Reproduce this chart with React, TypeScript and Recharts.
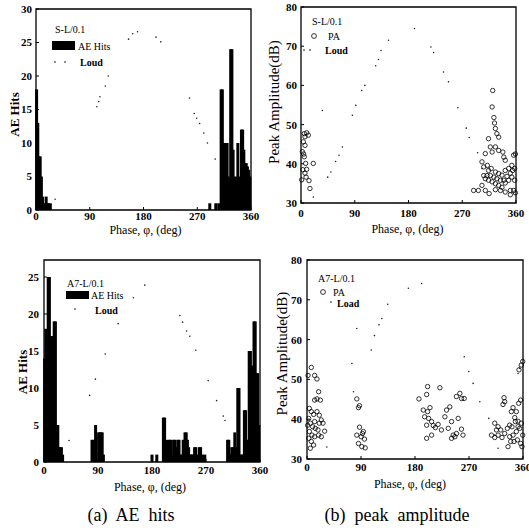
import React from 'react';
import { ComposedChart, Bar, Scatter, XAxis, YAxis, ReferenceArea, Label } from 'recharts';

const FONT = '"Liberation Serif", "Times New Roman", serif';
const phaseTicks = [0, 90, 180, 270, 360];

// S-L/0.1 : AE hits per phase bin
const slHitPhase = [1, 3, 5, 7, 9, 11, 13, 15, 17, 19, 21, 24, 291, 301, 306, 310, 312, 314, 317, 320, 322, 324, 326, 328, 330, 332, 334, 336, 338, 340, 342, 344, 346, 348, 350, 352, 354, 356, 358];
const slHitCount = [18, 13, 8, 8, 5, 2, 1, 1, 2, 1, 1, 1, 1, 1, 1, 18, 18, 10, 10, 10, 5, 4, 24, 24, 9, 4, 5, 4, 10, 5, 3, 12, 12, 9, 7, 7, 6.5, 6, 5];
// S-L/0.1 : load trace drawn on the hits scale
const slLoadPhase = [32, 102, 105, 107, 116, 121, 155, 162, 170, 201, 209, 257, 265, 269, 274, 281, 287, 300];
const slLoadHits = [1.6, 15.4, 16.2, 16.9, 18.5, 20, 25.5, 26.3, 26.6, 25.8, 25.1, 16.7, 14.4, 13.7, 12.9, 11.5, 10, 7.6];
// S-L/0.1 : peak amplitude (dB)
const slPaPhase = [5.6, 9.5, 12.3, 6.7, 3.9, 6.7, 2.2, 5.5, 7.8, 9.5, 6.7, 1.1, 13.4, 15, 20.6, 3, 8.5, 4.5,
  321, 320, 323, 324, 325.5, 328, 331, 314, 317, 325.5, 320, 331, 338, 339.6, 342, 356, 308.6, 303, 306, 312, 314, 318.5,
  325.5, 331, 336.5, 342, 347.7, 353, 357.8, 306, 308.6, 314, 320, 325.5, 331, 336.5, 342, 347.7, 353, 357.8, 303, 308.6,
  315, 297, 325.5, 334, 342, 350.5, 356, 350.5, 359, 311.5, 317, 323, 328, 334, 339.6, 345, 350.5, 354.5, 359, 289];
const slPaDb = [47.7, 47.9, 47.3, 46.9, 45.6, 44.7, 43.1, 41.8, 40.1, 38.6, 37.6, 35.9, 35.7, 33.7, 40.1, 38.5, 36.6, 42.5,
  58.7, 54.5, 51.8, 50.4, 49, 47.7, 46.8, 46.4, 44.3, 44.3, 43, 43.4, 43, 41.7, 40.9, 42.2, 42.6, 40.5, 39.2, 39.6, 38.3, 38.8,
  37.9, 37.5, 37.1, 38.3, 38.8, 39.6, 38.8, 37, 36.2, 35.8, 35.4, 34.9, 34.5, 34, 35.1, 35.8, 36.6, 35.8, 34.5, 33.2,
  32.4, 33.2, 33.4, 33.2, 32.8, 33.2, 33.2, 32.1, 32.6, 37, 37, 36.6, 36.2, 35.8, 35.8, 36.8, 37.6, 38.3, 42.5, 33.2];
const slLoadPhaseDb = [20.7, 35.8, 44.7, 50, 58, 63.7, 69.3, 86, 91.7, 101.7, 107, 125, 129.7, 134, 146.5, 190, 217.5, 222, 238.7, 247, 262.7, 276.7, 281.7, 295.7, 303];
const slLoadDb = [31.5, 53.6, 36.6, 37.9, 40.6, 42.2, 44.3, 52.4, 54.9, 58.7, 60, 65, 66.6, 68.9, 71.5, 74.5, 69.8, 68.4, 63.4, 60.9, 54.3, 49.1, 46.7, 42.8, 38.8];

// A7-L/0.1 : AE hits per phase bin
const a7HitPhase = [1, 3, 5, 7, 9, 11, 13, 15, 17, 19, 21, 23, 25, 27, 29, 31,
  80, 83, 86, 91, 93, 95, 97, 99,
  180, 188, 199, 201, 203, 205, 207, 209, 211, 213, 216, 218, 221, 223, 225, 228, 230, 232, 235, 237, 239, 241, 244, 246, 248, 251, 253, 256, 259, 261, 264, 268,
  306, 308, 311, 313, 315, 318, 320, 323, 325, 327, 330, 332, 334, 336, 338, 340, 342, 344, 346, 348, 350, 352, 354, 356, 358];
const a7HitCount = [14, 18, 17, 25, 25, 17, 17, 17, 19, 19, 5, 5, 2, 2, 2, 1,
  3, 3, 5, 4, 4, 4, 4, 1,
  1, 1, 6, 6, 2, 3, 1, 3, 3, 1, 3, 3, 2, 3, 3, 1, 1, 3, 4, 4, 3, 2, 1, 1, 1, 2, 2, 1, 2, 2, 1, 1,
  3, 3, 1, 2, 2, 4, 2, 10, 10, 1, 1, 1, 7, 7, 3, 3, 15, 15, 13, 13, 19, 19, 12, 12, 5];
const a7LoadPhase = [41.7, 76, 85.7, 102, 123.5, 149, 168, 226.5, 231, 237.6, 243, 253, 273.7, 287.7, 298.8, 301.6];
const a7LoadHits = [2.9, 9, 11.2, 14.6, 18.7, 22.2, 23.9, 19.8, 18.9, 17.7, 17, 15.1, 11, 8.3, 6.2, 5.6];
// A7-L/0.1 : peak amplitude (dB)
const a7PaPhase = [7.2, 1.7, 12.7, 16.6, 12.7, 16.6, 19.4, 22.2, 3.9, 7.2, 11, 16.6, 20.5, 23.8, 26.6, 29.4, 2.8, 5.5, 9.4, 13.8,
  18.3, 3.9, 8.3, 12.7, 19.4, 2.8, 7.2, 11, 5.5, 23.8, 1.1, 20.5, 12.7,
  83, 85.8, 87.5, 83, 85.8, 90.3, 91.4, 94, 95.8, 97, 87.5, 92.5,
  186.6, 199.4, 201, 221.5, 193.8, 201, 205, 196, 202.7, 199.4, 207.7, 210.5, 214, 218.5, 224, 229.8, 232.6, 238, 240.9, 235.4,
  243.7, 249.2, 252, 249, 254.8, 257.5, 261.9, 257.5, 260, 199.4, 207.7, 240.9, 246.5,
  328.4, 329.5, 326.7, 312.9, 318.5, 322.9, 307.4, 312.9, 318.5, 325, 329.5, 337.8, 343.4, 348.9, 354.5, 357.2, 351.7, 346.2,
  340.6, 343.4, 348.9, 352.8, 356.1, 353.3, 357.2, 359.5, 339.5, 345, 350.6, 356.1, 358.3, 335, 347.3, 341.7, 337.8, 333.9, 351.7, 359.5, 315.7];
const a7PaDb = [53, 51, 51, 50.1, 44.8, 45.1, 46.9, 44.8, 42.7, 41.9, 41.2, 41.9, 41, 39.8, 39, 37, 40.2, 39, 38.1, 37.7,
  37.3, 36.9, 36, 35.6, 36, 35.2, 34.4, 33.5, 32.7, 35.6, 38.5, 39, 39.4,
  45.1, 42.9, 43.4, 36, 33.9, 35.6, 33.1, 36.9, 35, 32.8, 38, 36.4,
  45.1, 46.2, 48.2, 47.9, 42.3, 41.9, 42.9, 40.6, 40.2, 38.5, 39.4, 38.4, 37.9, 38.7, 37.3, 40.6, 42.3, 43.1, 39.4, 37.7,
  36, 36.4, 40.2, 45.7, 46.5, 45.2, 45.2, 37.5, 36, 35.2, 36, 35.2, 35.6,
  45.4, 44.4, 43.7, 39, 38.1, 37.3, 36, 35.4, 36, 35.4, 36.4, 35.6, 36, 36.9, 37.7, 39, 39.5, 40.4,
  41.9, 42.9, 41.9, 44, 44.8, 52.4, 53.6, 54.5, 34.4, 34.4, 34.8, 33.9, 33.1, 33.1, 39.4, 38.1, 38.5, 37.7, 38.1, 36, 37.3];
const a7LoadPhaseDb = [33, 74.8, 77.5, 83, 107, 112.4, 120, 124.6, 134.6, 169, 191, 262, 269.7, 276.9, 288, 303, 313, 318.5, 351.7, 354.4];
const a7LoadDb = [33, 54, 46.9, 62.8, 57.4, 61, 63.7, 65.3, 68.9, 72.9, 74.1, 55.7, 52, 49, 44.4, 40.2, 36, 32.7, 51.5, 52.8];

const zipHits = (ph: number[], v: number[]) => ph.map((p, i) => ({ phase: p, hits: v[i] }));
const zipVal = (ph: number[], v: number[]) => ph.map((p, i) => ({ phase: p, v: v[i] }));

const BarShape = (p: any) => {
  const bw = Number.isFinite(p.width) ? p.width : 0;
  const w = Math.max(bw, 3);
  return <rect x={p.x + bw / 2 - w / 2} y={p.y} width={w} height={p.height} fill="#000" />;
};
const LoadDot = (p: any) => <circle cx={p.cx} cy={p.cy} r={0.8} fill="#222" />;
const PaRing = (p: any) => <circle cx={p.cx} cy={p.cy} r={2.2} fill="none" stroke="#000" strokeWidth={0.8} />;

const yTitle = (text: string, dx: number, dy: number, size: number, weight: any) => (props: any) => {
  const vb = props.viewBox;
  const x = vb.x + dx;
  const y = vb.y + vb.height / 2 + dy;
  return (
    <text x={x} y={y} transform={`rotate(-90 ${x} ${y})`} textAnchor="middle" dominantBaseline="central"
      style={{ fontFamily: FONT, fontSize: size, fontWeight: weight }} fill="#000">{text}</text>
  );
};
const xTitle = (dx: number, dy: number) => (props: any) => {
  const vb = props.viewBox;
  return (
    <text x={vb.x + vb.width / 2 + dx} y={vb.y + dy} textAnchor="middle" dominantBaseline="central"
      style={{ fontFamily: FONT, fontSize: 12 }} fill="#000">Phase, φ, (deg)</text>
  );
};

type PanelProps = {
  left: number; top: number; width: number; height: number; yWidth: number; mTop: number; mRight: number;
  yDomain: [number, number]; yTicks: number[];
  yText: string; yDx: number; yDy: number; ySize: number; yWeight: any;
  xDx: number; xDy: number; xTickGap: number; yTickGap: number;
  bars?: any[]; load: any[]; pa?: any[];
};

// ticks point inwards, so the label gap gets the tick length added back
const TICK = -3;

function Panel(p: PanelProps) {
  const tickStyle = { fontFamily: FONT, fontSize: 11, fontWeight: 'bold', fill: '#000' };
  const tickLine = { stroke: '#000', strokeWidth: 1 };
  return (
    <div style={{ position: 'absolute', left: p.left, top: p.top }}>
      <ComposedChart width={p.width} height={p.height} data={p.bars || []}
        margin={{ top: p.mTop, right: p.mRight, bottom: 15, left: 0 }}>
        <XAxis type="number" dataKey="phase" domain={[0, 360]} ticks={phaseTicks} height={30}
          axisLine={false} tickLine={tickLine} tickSize={TICK} tickMargin={p.xTickGap - TICK} tick={tickStyle} interval={0}>
          <Label content={xTitle(p.xDx, p.xDy)} />
        </XAxis>
        <YAxis type="number" domain={p.yDomain} ticks={p.yTicks} width={p.yWidth}
          axisLine={false} tickLine={tickLine} tickSize={TICK} tickMargin={p.yTickGap - TICK} tick={tickStyle} interval={0}>
          <Label content={yTitle(p.yText, p.yDx, p.yDy, p.ySize, p.yWeight)} />
        </YAxis>
        {p.bars && <Bar dataKey="hits" fill="#000" shape={BarShape} isAnimationActive={false} />}
        <Scatter data={p.load} dataKey="v" shape={LoadDot} isAnimationActive={false} />
        {p.pa && <Scatter data={p.pa} dataKey="v" shape={PaRing} isAnimationActive={false} />}
        <ReferenceArea x1={0} x2={360} y1={p.yDomain[0]} y2={p.yDomain[1]} fill="none" fillOpacity={0}
          stroke="#000" strokeWidth={1.3} ifOverflow="visible" />
      </ComposedChart>
    </div>
  );
}

const txt = { fontFamily: FONT, fontSize: 10 } as const;

export default function App() {
  return (
    <div style={{ position: 'absolute', left: 0, top: 0, width: 529, height: 530, background: '#fff' }}>
      <Panel left={0} top={0} width={266} height={255} yWidth={36} mTop={9} mRight={15}
        yDomain={[0, 30]} yTicks={[0, 5, 10, 15, 20, 25, 30]}
        yText="AE Hits" yDx={14} yDy={5} ySize={13} yWeight="bold"
        xDx={2} xDy={20} xTickGap={2} yTickGap={4}
        bars={zipHits(slHitPhase, slHitCount)} load={zipVal(slLoadPhase, slLoadHits)} />
      <Panel left={265} top={0} width={264} height={248} yWidth={36} mTop={7} mRight={13}
        yDomain={[30, 80]} yTicks={[30, 40, 50, 60, 70, 80]}
        yText="Peak Amplitude(dB)" yDx={9} yDy={-3} ySize={15} yWeight="normal"
        xDx={-1} xDy={26} xTickGap={6} yTickGap={4}
        load={zipVal(slLoadPhaseDb, slLoadDb)} pa={zipVal(slPaPhase, slPaDb)} />
      <Panel left={0} top={250} width={275} height={257} yWidth={44} mTop={10} mRight={15}
        yDomain={[0, 27.3]} yTicks={[0, 5, 10, 15, 20, 25]}
        yText="AE Hits" yDx={22} yDy={11} ySize={13} yWeight="bold"
        xDx={-2} xDy={25} xTickGap={4} yTickGap={5}
        bars={zipHits(a7HitPhase, a7HitCount)} load={zipVal(a7LoadPhase, a7LoadHits)} />
      <Panel left={265} top={250} width={264} height={254} yWidth={42} mTop={10} mRight={6}
        yDomain={[30, 80]} yTicks={[30, 40, 50, 60, 70, 80]}
        yText="Peak Amplitude(dB)" yDx={17} yDy={-6} ySize={15} yWeight="normal"
        xDx={-5} xDy={25} xTickGap={4} yTickGap={5}
        load={zipVal(a7LoadPhaseDb, a7LoadDb)} pa={zipVal(a7PaPhase, a7PaDb)} />

      <svg width={529} height={530} style={{ position: 'absolute', left: 0, top: 0, pointerEvents: 'none' }}>
        <g dominantBaseline="central" fill="#000">
          <text x={55} y={29} style={txt}>S-L/0.1</text>
          <rect x={52} y={41} width={23} height={9} fill="#000" />
          <text x={78} y={46} style={txt}>AE Hits</text>
          <circle cx={55} cy={62} r={0.8} />
          <circle cx={65} cy={62} r={0.8} />
          <text x={80} y={62} style={{ ...txt, fontWeight: 'bold' }}>Loud</text>

          <text x={312} y={21} style={txt}>S-L/0.1</text>
          <circle cx={314} cy={36} r={2.4} fill="none" stroke="#000" strokeWidth={0.8} />
          <text x={328} y={36} style={txt}>PA</text>
          <circle cx={304} cy={50} r={0.8} />
          <circle cx={310} cy={50} r={0.8} />
          <text x={325} y={50} style={{ ...txt, fontWeight: 'bold' }}>Loud</text>

          <text x={67} y={283} style={txt}>A7-L/0.1</text>
          <rect x={66} y={291} width={23} height={8} fill="#000" />
          <text x={91} y={295} style={txt}>AE Hits</text>
          <circle cx={75} cy={309} r={0.8} />
          <text x={95} y={310} style={{ ...txt, fontWeight: 'bold' }}>Loud</text>

          <text x={318} y={278} style={txt}>A7-L/0.1</text>
          <circle cx={323} cy={292} r={2.4} fill="none" stroke="#000" strokeWidth={0.8} />
          <text x={333} y={292} style={txt}>PA</text>
          <circle cx={331} cy={302} r={0.8} />
          <text x={337} y={303} style={{ ...txt, fontWeight: 'bold' }}>Load</text>

          <text x={131} y={515} textAnchor="middle" style={{ fontFamily: FONT, fontSize: 18, whiteSpace: 'pre' }}>(a)  AE  hits</text>
          <text x={397} y={515} textAnchor="middle" style={{ fontFamily: FONT, fontSize: 18, whiteSpace: 'pre' }}>(b)  peak  amplitude</text>
        </g>
      </svg>
    </div>
  );
}
